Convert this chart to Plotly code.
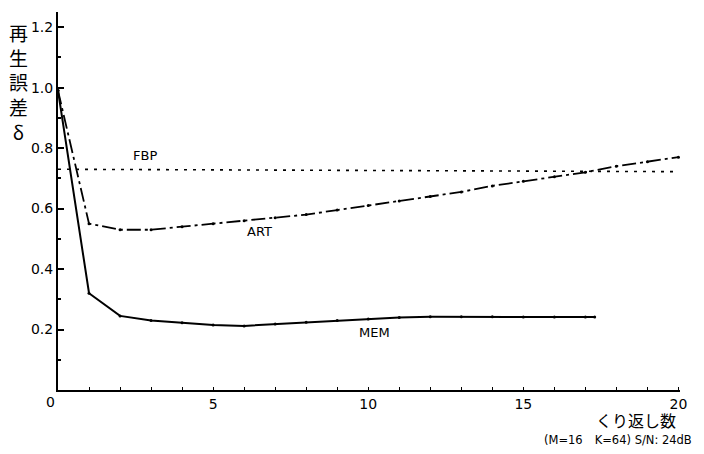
import plotly.graph_objects as go

iters = list(range(0, 21))
art = [0.99, 0.55, 0.53, 0.53, 0.54, 0.55, 0.56, 0.57, 0.58, 0.595, 0.61,
       0.625, 0.64, 0.655, 0.675, 0.69, 0.705, 0.72, 0.74, 0.755, 0.77]
mem_x = [0, 1, 2, 3, 4, 5, 6, 7, 8, 9, 10, 11, 12, 13, 14, 15, 16, 17, 17.3]
mem = [0.99, 0.32, 0.245, 0.23, 0.222, 0.215, 0.212, 0.218, 0.224, 0.23, 0.235,
       0.24, 0.242, 0.242, 0.242, 0.241, 0.241, 0.241, 0.241]
fbp_x = [0, 20]
fbp = [0.73, 0.722]

yticks = [0.2, 0.4, 0.6, 0.8, 1.0, 1.2]
yticklabels = ["0.2", "0.4", "0.6", "0.8", "1.0", "1.2"]
xticks = [5, 10, 15, 20]
xticklabels = ["5", "10", "15", "20"]

font = "DejaVu Sans"
jfont = "Noto Sans CJK JP"

fig = go.Figure()
fig.add_trace(go.Scatter(x=fbp_x, y=fbp, mode="lines",
                         line=dict(color="black", width=1.6, dash="3px,6px")))
fig.add_trace(go.Scatter(x=iters, y=art, mode="lines+markers",
                         line=dict(color="black", width=1.8, dash="14px,4px,3px,4px"),
                         marker=dict(size=3, color="black")))
fig.add_trace(go.Scatter(x=mem_x, y=mem, mode="lines+markers",
                         line=dict(color="black", width=2),
                         marker=dict(size=3, color="black")))

fig.update_layout(
    width=688, height=438,
    margin=dict(l=50, r=16, t=4, b=56, autoexpand=False),
    paper_bgcolor="white", plot_bgcolor="white",
    showlegend=False,
    font=dict(family=font, size=14, color="black"),
    xaxis=dict(range=[0, 20.05], showgrid=False, zeroline=False, automargin=False,
               showline=True, linecolor="black", linewidth=2,
               tickmode="array", tickvals=xticks, ticktext=xticklabels,
               ticks="", tickfont=dict(size=14),
               minor=dict(tickvals=list(range(1, 21)), ticks="inside",
                          ticklen=3, tickcolor="black", tickwidth=1.2)),
    yaxis=dict(range=[0, 1.25], showgrid=False, zeroline=False, automargin=False,
               showline=True, linecolor="black", linewidth=2,
               tickmode="array", tickvals=yticks, ticktext=yticklabels,
               ticks="inside", ticklen=6, tickwidth=1.5, tickcolor="black",
               minor=dict(tickvals=[0.1, 0.3, 0.5, 0.7, 0.9, 1.1], ticks="inside",
                          ticklen=3, tickcolor="black"),
               tickfont=dict(size=14)),
)

fig.add_annotation(x=0, y=0, xref="x", yref="y", text="0", showarrow=False,
                   xanchor="right", yanchor="top", xshift=-1, yshift=-2,
                   font=dict(size=14))
fig.add_annotation(x=2.8, y=0.775, text="FBP", showarrow=False, font=dict(size=13))
fig.add_annotation(x=6.5, y=0.525, text="ART", showarrow=False, font=dict(size=13))
fig.add_annotation(x=10.2, y=0.19, text="MEM", showarrow=False, font=dict(size=13))

fig.add_annotation(xref="paper", yref="paper", x=-0.064, y=0.815,
                   text="再<br>生<br>誤<br>差<br>δ", showarrow=False,
                   xanchor="center", yanchor="middle",
                   font=dict(family=jfont, size=19), align="center")
fig.add_annotation(xref="paper", yref="paper", x=0.997, y=-0.079,
                   text="くり返し数", showarrow=False, xanchor="right", yanchor="middle",
                   font=dict(family=jfont, size=16))
fig.add_annotation(xref="paper", yref="paper", x=1.022, y=-0.132,
                   text="(M=16　K=64) S/N: 24dB", showarrow=False, xanchor="right",
                   yanchor="middle", font=dict(family=font, size=11.5))

fig.write_html("out.html")
